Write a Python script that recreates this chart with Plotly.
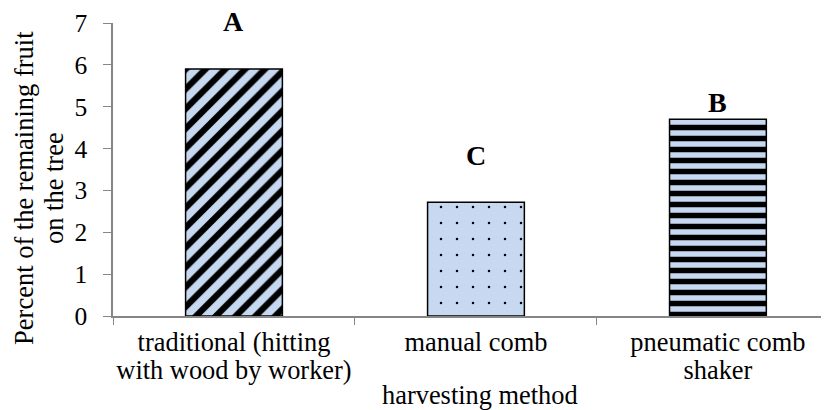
import plotly.graph_objects as go

categories = ["traditional (hitting<br>with wood by worker)", "manual comb", "pneumatic comb<br>shaker"]
values = [5.9, 2.72, 4.7]
letters = ["A", "C", "B"]
patterns = ["/", ".", "-"]
y_title = "Percent of the remaining fruit<br>on the tree"
x_title = "harvesting method"

FONT = "Liberation Serif, Times New Roman, serif"


def big(txt, px):
    return "<br>".join('<span style="font-size:%spx">%s</span>' % (px, part) for part in txt.split("<br>"))


fig = go.Figure()
fig.add_trace(go.Bar(
    x=categories, y=values, width=0.4,
    marker=dict(
        color="#c6d9f1",
        line=dict(color="black", width=1.5),
        pattern=dict(
            shape=patterns,
            fgcolor="black",
            fgopacity=1,
            bgcolor="#c6d9f1",
            size=[14, 16, 11],
            solidity=[0.45, 0.02, 0.5],
            fillmode="overlay",
        ),
    ),
    showlegend=False,
))

shifts = [48, 47, 17]
for c, v, l, s in zip(categories, values, letters, shifts):
    fig.add_annotation(x=c, y=v, text="<b>%s</b>" % l, showarrow=False,
                       yanchor="middle", yshift=s,
                       font=dict(family=FONT, size=28, color="black"))

# axis titles as annotations for precise placement
fig.add_annotation(xref="paper", yref="paper", x=-0.1034, y=0.437,
                   text=big(y_title, 26.5), textangle=-90, showarrow=False,
                   xanchor="center", yanchor="middle",
                   font=dict(family=FONT, size=23, color="black"))
fig.add_annotation(xref="paper", yref="paper", x=0.5126, y=-0.27,
                   text=x_title, showarrow=False,
                   xanchor="center", yanchor="middle",
                   font=dict(family=FONT, size=26.4, color="black"))

fig.update_layout(
    width=821, height=402,
    margin=dict(l=105, r=0, t=15, b=94),
    plot_bgcolor="white", paper_bgcolor="white",
    font=dict(family=FONT, size=21.5, color="black"),
)
fig.update_xaxes(
    range=[-0.5, 2.459], showline=True, linecolor="#868686", linewidth=1.5,
    ticks="outside", tickson="boundaries", ticklen=7, tickcolor="#868686",
    tickvals=categories, ticktext=[big(c, 26.4) for c in categories],
    tickfont=dict(family=FONT, size=21.5), tickangle=0, ticklabelstandoff=7,
    showgrid=False, automargin=False,
)
fig.update_yaxes(
    range=[0, 7], dtick=1, showline=True, linecolor="#868686", linewidth=1.5,
    ticks="outside", ticklen=8, tickcolor="#868686",
    tickfont=dict(family=FONT, size=25.5), ticklabelstandoff=11,
    showgrid=False, zeroline=False, automargin=False,
)

fig.write_html("out.html")
